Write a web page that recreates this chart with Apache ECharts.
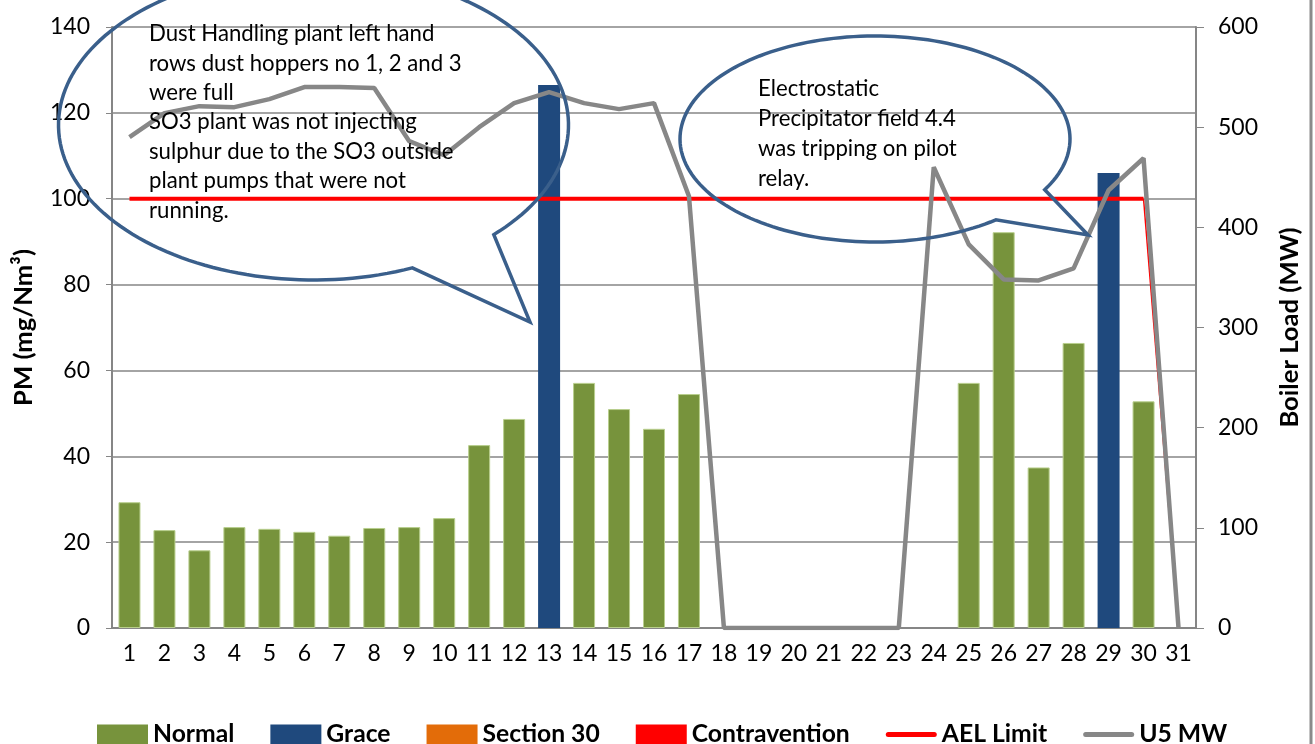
<!DOCTYPE html>
<html><head><meta charset="utf-8">
<script src="https://cdn.jsdelivr.net/npm/echarts@6/dist/echarts.min.js"></script>
<style>html,body{margin:0;padding:0;background:#fff}#c{width:1315px;height:744px}</style>
</head><body><div id="c"></div>
<script>
const days = ['1','2','3','4','5','6','7','8','9','10','11','12','13','14','15','16','17','18','19','20','21','22','23','24','25','26','27','28','29','30','31'];
const normal = [29.3,22.8,18.1,23.5,23.1,22.4,21.5,23.3,23.5,25.6,42.6,48.7,null,57.1,51.0,46.4,54.5,null,null,null,null,null,null,null,57.1,92.2,37.4,66.4,null,52.8,null];
const grace = [null,null,null,null,null,null,null,null,null,null,null,null,126.5,null,null,null,null,null,null,null,null,null,null,null,null,null,null,null,106.0,null,null];
const section30 = [null,null,null,null,null,null,null,null,null,null,null,null,null,null,null,null,null,null,null,null,null,null,null,null,null,null,null,null,null,null,null];
const contravention = [null,null,null,null,null,null,null,null,null,null,null,null,null,null,null,null,null,null,null,null,null,null,null,null,null,null,null,null,null,null,null];
const aelLimit = [100,100,100,100,100,100,100,100,100,100,100,100,100,100,100,100,100,100,100,100,100,100,100,100,100,100,100,100,100,100,null];
const aelDrop = [null,null,null,null,null,null,null,null,null,null,null,null,null,null,null,null,null,null,null,null,null,null,null,null,null,null,null,null,null,100,0];
const u5MW = [490,514,521,520,528,540,540,539,486,472,500,524,535,524,518,524,431,0,0,0,0,0,0,460,383,348,347,359,437,469,0];
const note1 = ['Dust Handling plant left hand','rows dust hoppers no 1, 2 and 3','were full','SO3 plant was not injecting','sulphur due to the SO3 outside','plant pumps that were not','running.'];
const note2 = ['Electrostatic','Precipitator field 4.4','was tripping on pilot','relay.'];

const FONT = 'Lato';
const cv = document.createElement('canvas').getContext('2d');
function fit(text, target, weight){ cv.font = weight + ' 100px ' + FONT; return Math.round(1000*target/cv.measureText(text).width)/10; }
const tickSize = fit('140', 40, 'normal');
const noteSize = (fit(note1[0], 285, 'normal') + fit(note2[1], 198, 'normal'))/2;
const legSize = fit('Contravention', 158, 'bold');
const nameSize = (fit('PM (mg/Nm³)', 162, 'bold') + fit('Boiler Load (MW)', 194, 'bold'))/2;

function bubble(cx, cy, rx, ry, t1, t2, tip){
  const pts = [];
  for (let t = t2; t < t1 + 360; t += 2){ const r = t*Math.PI/180; pts.push([cx+rx*Math.cos(r), cy+ry*Math.sin(r)]); }
  const r1 = (t1+360)*Math.PI/180; pts.push([cx+rx*Math.cos(r1), cy+ry*Math.sin(r1)]);
  pts.push(tip);
  return pts;
}
const BLUE = '#3A5F8B';
const graphics = [
  {type:'polygon', z:100, shape:{points:bubble(313.5,125,255,155,45,67.2,[530,322])}, style:{fill:'none', stroke:BLUE, lineWidth:3.5}},
  {type:'polygon', z:100, shape:{points:bubble(875,139,195,103,29.5,51.7,[1088,235])}, style:{fill:'none', stroke:BLUE, lineWidth:3.5}},
  {type:'line', z:100, shape:{x1:1311,y1:0,x2:1311,y2:744}, style:{stroke:'#8a8a8a', lineWidth:3}}
];
note1.forEach((s,i)=>graphics.push({type:'text', z:101, left:149, top:36.7+i*29.4-noteSize*0.62, style:{text:s, font:'normal '+noteSize+'px '+FONT, fill:'#000'}}));
note2.forEach((s,i)=>graphics.push({type:'text', z:101, left:758, top:91.7+i*30-noteSize*0.62, style:{text:s, font:'normal '+noteSize+'px '+FONT, fill:'#000'}}));

const LINE_ICON = 'path://M0,0 M51,20 M2.5,7.5 L48.5,7.5 A2.5,2.5 0 0 1 48.5,12.5 L2.5,12.5 A2.5,2.5 0 0 1 2.5,7.5 Z';
const GRAY = '#868686';
const chart = echarts.init(document.getElementById('c'));
chart.setOption({
  animation:false,
  textStyle:{fontFamily:FONT},
  grid:{left:112, right:119, top:27, bottom:116},
  legend:{left:97, top:722, itemWidth:51, itemHeight:20, itemGap:36, padding:0,
    itemStyle:{borderWidth:0},
    textStyle:{fontWeight:'bold', fontSize:legSize, lineHeight:22, color:'#000', fontFamily:FONT},
    data:[{name:'Normal',icon:'rect'},{name:'Grace',icon:'rect'},{name:'Section 30',icon:'rect'},{name:'Contravention',icon:'rect'},
          {name:'AEL Limit',icon:LINE_ICON},{name:'U5 MW',icon:LINE_ICON}]},
  xAxis:{type:'category', data:days,
    axisLine:{lineStyle:{color:GRAY, width:2}}, axisTick:{show:false},
    axisLabel:{color:'#000', fontSize:tickSize, margin:14, interval:0}},
  yAxis:[
    {type:'value', min:0, max:140, interval:20, name:'PM (mg/Nm³)', nameLocation:'middle', nameGap:75,
     nameTextStyle:{fontWeight:'bold', fontSize:nameSize, color:'#000'},
     axisLine:{show:true, lineStyle:{color:GRAY, width:2}}, axisTick:{show:true, length:6, lineStyle:{color:GRAY}},
     axisLabel:{color:'#000', fontSize:tickSize, margin:22}, splitLine:{lineStyle:{color:GRAY, width:1.5}}},
    {type:'value', min:0, max:600, interval:100, position:'right', name:'Boiler Load (MW)', nameLocation:'middle', nameGap:81,
     nameTextStyle:{fontWeight:'bold', fontSize:nameSize, color:'#000'},
     axisLine:{show:true, lineStyle:{color:GRAY, width:2}}, axisTick:{show:true, length:8, lineStyle:{color:GRAY}},
     axisLabel:{color:'#000', fontSize:tickSize, margin:22}, splitLine:{show:false}}
  ],
  series:[
    {name:'Normal', type:'bar', stack:'pm', barWidth:22, data:normal, itemStyle:{color:'#77933C', borderColor:'#B9CF8E', borderWidth:1}},
    {name:'Grace', type:'bar', stack:'pm', barWidth:22, data:grace, itemStyle:{color:'#1F497D'}},
    {name:'Section 30', type:'bar', stack:'pm', barWidth:22, data:section30, itemStyle:{color:'#E36C09'}},
    {name:'Contravention', type:'bar', stack:'pm', barWidth:22, data:contravention, itemStyle:{color:'#FF0000'}},
    {name:'AEL Limit', type:'line', data:aelLimit, symbol:'none', lineStyle:{color:'#FF0000', width:4}, itemStyle:{color:'#FF0000'}},
    {name:'AEL Drop', type:'line', data:aelDrop, symbol:'none', lineStyle:{color:'#FF0000', width:1.5}, itemStyle:{color:'#FF0000'}},
    {name:'U5 MW', type:'line', yAxisIndex:1, data:u5MW, symbol:'none', lineStyle:{color:'#878787', width:4.5}, itemStyle:{color:'#878787'}}
  ],
  graphic:graphics
});
</script></body></html>
